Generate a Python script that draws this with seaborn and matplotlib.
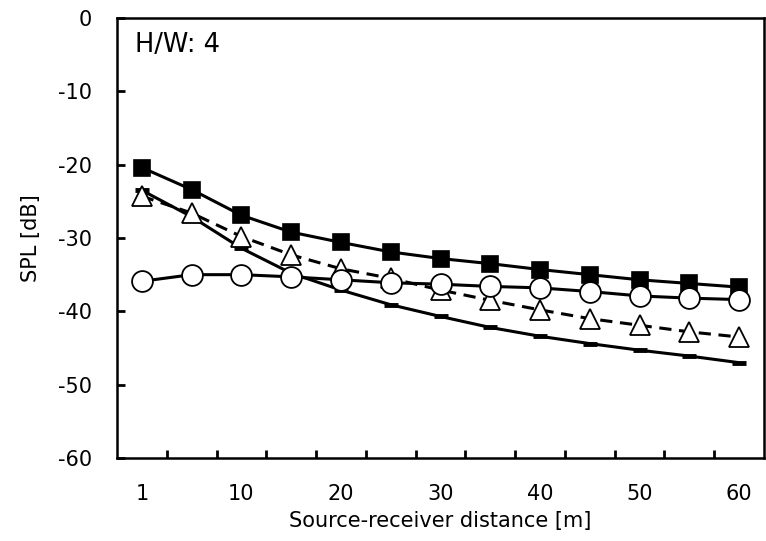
import numpy as np
import matplotlib
matplotlib.use("Agg")
import matplotlib.pyplot as plt
import seaborn as sns

# source-receiver distance [m] (categorical axis)
distance = [1, 5, 10, 15, 20, 25, 30, 35, 40, 45, 50, 55, 60]
tick_labels = ['1', '10', '20', '30', '40', '50', '60']

# SPL [dB]
spl_square = [-20.4, -23.4, -26.9, -29.2, -30.6, -31.9, -32.8, -33.5, -34.3, -35.0, -35.7, -36.2, -36.7]
spl_bar = [-23.5, -27.1, -31.4, -34.8, -37.1, -39.1, -40.7, -42.2, -43.4, -44.4, -45.3, -46.1, -47.0]
spl_triangle = [-24.3, -26.6, -29.8, -32.3, -34.2, -35.5, -37.1, -38.5, -39.8, -41.0, -41.9, -42.8, -43.5]
spl_circle = [-35.9, -35.0, -35.0, -35.3, -35.7, -36.1, -36.3, -36.6, -36.8, -37.3, -37.9, -38.2, -38.4]

sns.set_theme(style='white')
plt.rcParams['font.family'] = ['DejaVu Sans']
plt.rcParams['axes.unicode_minus'] = False
plt.rcParams['text.color'] = 'black'
plt.rcParams['axes.labelcolor'] = 'black'
plt.rcParams['xtick.color'] = 'black'
plt.rcParams['ytick.color'] = 'black'

fig = plt.figure(figsize=(7.66, 5.41), dpi=100)
ax = fig.add_axes([117 / 766, 1 - 458 / 541, (764 - 117) / 766, (458 - 18) / 541])

pos = np.arange(len(distance))
lw = 2.2

sns.lineplot(x=pos, y=spl_square, ax=ax, color='black', lw=lw, marker='s',
             markersize=12, mfc='black', mec='black', mew=1.2, zorder=3)
sns.lineplot(x=pos, y=spl_bar, ax=ax, color='black', lw=lw, marker='_',
             markersize=10, mfc='black', mec='black', mew=3.5, zorder=3)
sns.lineplot(x=pos, y=spl_triangle, ax=ax, color='black', lw=lw, linestyle=(0, (4, 2.5)),
             marker='^', markersize=14, mfc='white', mec='black', mew=1.3, zorder=4)
sns.lineplot(x=pos, y=spl_circle, ax=ax, color='black', lw=lw, marker='o',
             markersize=15, mfc='white', mec='black', mew=1.3, zorder=5)

ax.set_xlim(-0.5, len(distance) - 0.5)
ax.set_ylim(-60, 0)
ax.set_yticks(np.arange(-60, 1, 10))
ax.set_xticks(pos[::2])
ax.set_xticklabels(tick_labels)
ax.set_xticks(pos[:-1] + 0.5, minor=True)

ax.tick_params(axis='y', direction='in', length=6, width=2,
               labelsize=15, pad=18, left=True)
ax.tick_params(axis='x', which='major', length=0, labelsize=15, pad=19, bottom=True)
ax.tick_params(axis='x', which='minor', direction='in', length=6, width=2, bottom=True)

for sp in ax.spines.values():
    sp.set_color('black')
    sp.set_linewidth(1.8)

ax.set_xlabel('Source-receiver distance [m]', fontsize=15, labelpad=5)
ax.set_ylabel('SPL [dB]', fontsize=15, labelpad=12)
ax.text(0.028, 0.938, 'H/W: 4', transform=ax.transAxes, fontsize=18.5, va='center', ha='left')

fig.savefig('out.png', dpi=100)
